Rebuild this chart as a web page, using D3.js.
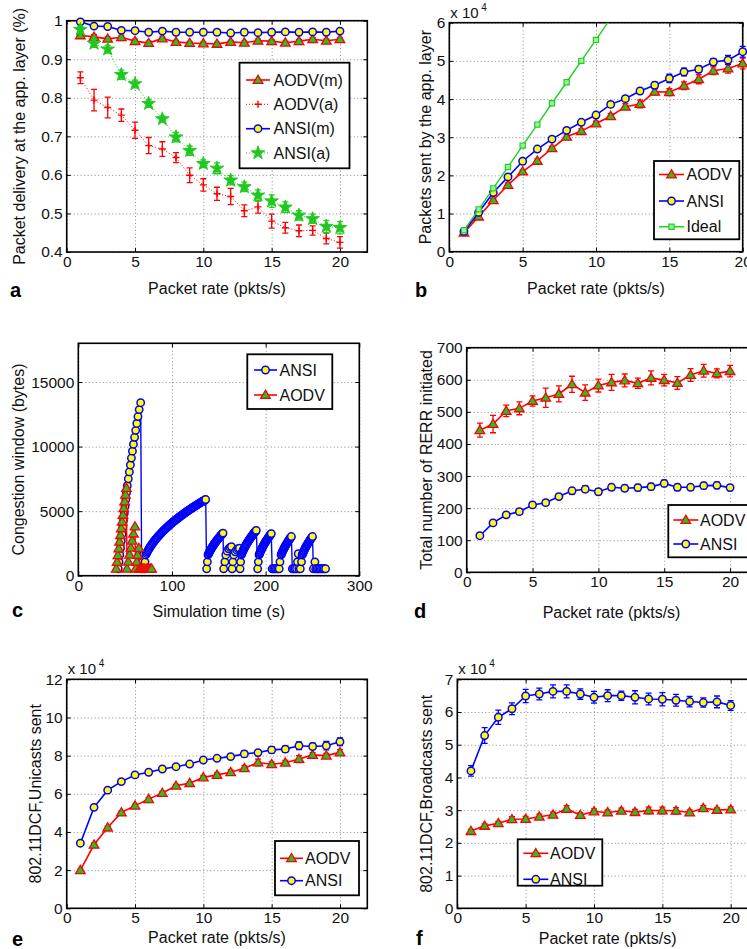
<!DOCTYPE html>
<html>
<head>
<meta charset="utf-8">
<script src="https://cdn.jsdelivr.net/npm/d3@7"></script>
<style>
  body { margin: 0; background: #fff; }
  svg { display: block; font-family: "Liberation Sans", Arial, Helvetica, sans-serif; }
</style>
</head>
<body>
<svg id="fig" width="747" height="949"></svg>
<script>
// ---- data ----
const rate = [1, 2, 3, 4, 5, 6, 7, 8, 9, 10, 11, 12, 13, 14, 15, 16, 17, 18, 19, 20];

// a: packet delivery ratio
const aAodvM    = [0.962, 0.958, 0.953, 0.957, 0.947, 0.942, 0.954, 0.945, 0.942, 0.941, 0.940, 0.945, 0.943, 0.948, 0.947, 0.943, 0.947, 0.952, 0.948, 0.952];
const aAodvMErr = [0.008, 0.006, 0.005, 0.005, 0.005, 0.005, 0.004, 0.004, 0.004, 0.004, 0.004, 0.004, 0.004, 0.004, 0.004, 0.004, 0.004, 0.004, 0.004, 0.004];
const aAnsiM    = [0.997, 0.986, 0.985, 0.975, 0.974, 0.970, 0.973, 0.970, 0.970, 0.970, 0.970, 0.968, 0.970, 0.969, 0.970, 0.971, 0.970, 0.971, 0.970, 0.973];
const aAodvA    = [0.852, 0.794, 0.775, 0.755, 0.716, 0.676, 0.667, 0.645, 0.599, 0.574, 0.551, 0.544, 0.507, 0.517, 0.480, 0.463, 0.455, 0.456, 0.435, 0.425];
const aAodvAErr = [0.015, 0.028, 0.027, 0.016, 0.021, 0.021, 0.019, 0.013, 0.019, 0.016, 0.017, 0.021, 0.015, 0.016, 0.018, 0.014, 0.015, 0.012, 0.014, 0.015];
const aAnsiA    = [0.977, 0.941, 0.926, 0.860, 0.836, 0.785, 0.745, 0.698, 0.663, 0.629, 0.617, 0.586, 0.569, 0.547, 0.532, 0.516, 0.495, 0.486, 0.466, 0.463];
const aAnsiAErr = [0.008, 0.010, 0.010, 0.012, 0.010, 0.010, 0.008, 0.012, 0.012, 0.010, 0.014, 0.012, 0.012, 0.014, 0.016, 0.014, 0.012, 0.012, 0.016, 0.016];

// b: packets sent by the app. layer (x 10^4)
const bAodv    = [0.50, 0.92, 1.35, 1.75, 2.10, 2.38, 2.71, 3.01, 3.16, 3.36, 3.55, 3.80, 3.87, 4.19, 4.18, 4.35, 4.52, 4.74, 4.80, 4.93];
const bAodvErr = [0.03, 0.03, 0.04, 0.05, 0.04, 0.05, 0.05, 0.05, 0.06, 0.06, 0.07, 0.08, 0.10, 0.08, 0.09, 0.10, 0.12, 0.10, 0.12, 0.14];
const bAnsi    = [0.53, 1.03, 1.55, 1.96, 2.37, 2.69, 2.95, 3.18, 3.39, 3.58, 3.86, 4.01, 4.21, 4.36, 4.54, 4.71, 4.78, 4.97, 5.02, 5.24];
const bAnsiErr = [0.03, 0.04, 0.05, 0.05, 0.05, 0.06, 0.06, 0.06, 0.06, 0.07, 0.07, 0.07, 0.07, 0.08, 0.11, 0.10, 0.09, 0.09, 0.12, 0.14];
const bIdealRate = [1, 2, 3, 4, 5, 6, 7, 8, 9, 10, 11];
const bIdeal     = [0.56, 1.11, 1.66, 2.22, 2.78, 3.33, 3.89, 4.44, 5.00, 5.55, 6.11];

// c: congestion window (bytes) over simulation time (s), ANSI trace by stretch
const cAnsiT1 = [42.7, 43.5, 44.3, 45.1, 45.9, 46.7, 47.5, 48.3, 49.1, 49.9, 50.7, 51.5, 52.3, 53.4, 54.5, 55.6, 56.7, 57.8, 58.9, 60.1, 61.3, 62.5, 63.7, 65.0, 66.6,
  67.6, 68.6, 69.6, 70.4, 71.2];
const cAnsiW1 = [536, 1072, 1608, 2144, 2680, 3216, 3752, 4288, 4824, 5360, 5896, 6432, 6968, 7504, 8040, 8576, 9112, 9648, 10184, 10720, 11256, 11792, 12328, 12864, 13400,
  536, 1072, 1608, 536, 1072];
const cAnsiT2 = [72, 72.75, 73.5, 74.25, 75, 75.75, 76.5, 77.25, 78, 78.75, 79.5, 80.25, 81, 81.75, 82.5, 83.25, 84, 84.75, 85.5, 86.25,
  87, 87.75, 88.5, 89.25, 90, 90.75, 91.5, 92.25, 93, 93.75, 94.5, 95.25, 96, 96.75, 97.5, 98.25, 99, 99.75, 100.5, 101.25,
  102, 102.75, 103.5, 104.25, 105, 105.75, 106.5, 107.25, 108, 108.75, 109.5, 110.25, 111, 111.75, 112.5, 113.25, 114, 114.75, 115.5, 116.25,
  117, 117.75, 118.5, 119.25, 120, 120.75, 121.5, 122.25, 123, 123.75, 124.5, 125.25, 126, 126.75, 127.5, 128.25, 129, 129.75, 130.5, 131.25,
  132, 132.75, 133.5, 134.25, 135, 135.5, 136,
  137, 137.8];
const cAnsiW2 = [1608, 1722, 1828, 1928, 2024, 2115, 2203, 2287, 2368, 2446, 2522, 2596, 2668, 2738, 2806, 2872, 2937, 3001, 3063, 3124,
  3184, 3243, 3300, 3357, 3413, 3468, 3522, 3575, 3628, 3679, 3730, 3780, 3830, 3879, 3927, 3975, 4022, 4069, 4115, 4161,
  4206, 4251, 4295, 4339, 4382, 4425, 4467, 4509, 4551, 4592, 4633, 4674, 4714, 4754, 4794, 4833, 4872, 4910, 4949, 4987,
  5024, 5062, 5099, 5136, 5172, 5209, 5245, 5281, 5317, 5352, 5387, 5422, 5457, 5491, 5525, 5560, 5594, 5627, 5660, 5694,
  5727, 5760, 5792, 5825, 5857, 5879, 5900,
  536, 1072];
const cAnsiT3 = [138.5, 139, 139.5, 140, 140.5, 141, 141.5, 142, 142.5, 143, 143.5, 144, 144.5, 145, 145.5, 146, 146.5, 147, 147.5, 148,
  148.5, 149, 149.5, 150, 150.5, 151, 151.5, 152, 152.5, 153, 153.5, 154, 154.5,
  155.2, 156.5, 157.5, 159, 160.5, 162, 163.5, 164.2, 165, 166, 167.5, 169, 170.5, 172, 172.7, 173.3];
const cAnsiW3 = [1608, 1687, 1762, 1834, 1904, 1971, 2035, 2098, 2159, 2219, 2276, 2333, 2387, 2441, 2494, 2545, 2596, 2645, 2694, 2742,
  2789, 2835, 2880, 2925, 2969, 3012, 3055, 3097, 3139, 3180, 3220, 3260, 3300,
  536, 1072, 1608, 1900, 2080, 2190, 2254, 536, 1072, 1608, 1850, 2000, 2090, 2124, 536, 1072];
const cAnsiT4 = [174, 174.5, 175, 175.5, 176, 176.5, 177, 177.5, 178, 178.5, 179, 179.5, 180, 180.5, 181, 181.5, 182, 182.5, 183, 183.5,
  184, 184.5, 185, 185.5, 186, 186.5, 187, 187.5, 188, 188.5, 189, 189.5, 190,
  191.5, 192.2];
const cAnsiW4 = [1608, 1700, 1788, 1871, 1951, 2028, 2101, 2173, 2242, 2309, 2374, 2437, 2499, 2560, 2618, 2676, 2732, 2788, 2842, 2895,
  2947, 2999, 3049, 3099, 3147, 3196, 3243, 3290, 3336, 3381, 3426, 3470, 3514,
  536, 1072];
const cAnsiT5 = [193, 193.5, 194, 194.5, 195, 195.5, 196, 196.5, 197, 197.5, 198, 198.5, 199, 199.5, 200, 200.5, 201, 201.5, 202, 202.5,
  203, 203.5, 204, 204.5, 205, 205.5, 206,
  207, 208.5, 210, 211.5, 213, 214.5, 215.3];
const cAnsiW5 = [1608, 1701, 1790, 1874, 1955, 2032, 2107, 2179, 2249, 2317, 2382, 2446, 2509, 2570, 2629, 2687, 2744, 2800, 2854, 2908,
  2961, 3012, 3063, 3113, 3163, 3211, 3259,
  536, 536, 536, 536, 536, 536, 1072];
const cAnsiT6 = [216.5, 217, 217.5, 218, 218.5, 219, 219.5, 220, 220.5, 221, 221.5, 222, 222.5, 223, 223.5, 224, 224.5, 225, 225.5, 226,
  226.5, 227, 227.5,
  228.5, 230, 231.5, 233, 234, 234.8, 235.5, 237, 238.3];
const cAnsiW6 = [1608, 1699, 1785, 1868, 1946, 2022, 2095, 2166, 2234, 2300, 2365, 2427, 2488, 2548, 2606, 2663, 2719, 2774, 2828, 2880,
  2932, 2983, 3033,
  536, 536, 536, 536, 1072, 1700, 536, 536, 1072];
const cAnsiT7 = [239, 239.5, 240, 240.5, 241, 241.5, 242, 242.5, 243, 243.5, 244, 244.5, 245, 245.5, 246, 246.5, 247, 247.5, 248, 248.5,
  249, 249.5, 250,
  251, 252.6, 253.5, 255, 256.5, 258, 259.5, 261, 262.5, 264];
const cAnsiW7 = [1608, 1699, 1785, 1868, 1946, 2022, 2095, 2166, 2234, 2300, 2365, 2427, 2488, 2548, 2606, 2663, 2719, 2774, 2828, 2880,
  2932, 2983, 3033,
  536, 1072, 536, 536, 536, 536, 536, 536, 536, 536];
const cAodvT = [40.5, 41.4, 42.3, 43.2, 44.1, 45.0, 45.9, 46.8, 47.7, 48.6, 49.5, 50.4, 51.4,
  51.9, 53.3, 54.7, 56.1, 57.5, 58.9, 60.5,
  61.2, 62.5, 63.3, 64.7,
  65.3, 66.5, 68, 69.5, 71, 72.5, 74, 75.5, 77, 78.3];
const cAodvW = [536, 1058, 1580, 2102, 2624, 3146, 3668, 4190, 4712, 5234, 5756, 6278, 6800,
  536, 1081, 1626, 2171, 2716, 3261, 3808,
  536, 1072, 1608, 2144,
  536, 536, 536, 536, 536, 536, 536, 536, 536, 536];

// d: RERR initiated
const dAodv    = [443, 462, 503, 511, 534, 544, 556, 586, 560, 582, 592, 598, 589, 606, 599, 590, 615, 628, 620, 627];
const dAodvErr = [22, 27, 18, 20, 16, 30, 25, 25, 24, 20, 25, 20, 16, 22, 18, 20, 20, 20, 14, 18];
const dAnsi    = [114, 154, 179, 189, 210, 217, 236, 254, 259, 251, 265, 262, 264, 267, 277, 265, 265, 270, 271, 264];
const dAnsiErr = [8, 8, 8, 8, 8, 8, 8, 10, 10, 9, 9, 9, 10, 10, 10, 10, 8, 10, 10, 9];

// e: unicasts sent (x 10^4)
const eAodv    = [2.00, 3.33, 4.23, 5.02, 5.38, 5.72, 6.04, 6.42, 6.56, 6.86, 6.99, 7.13, 7.34, 7.64, 7.55, 7.63, 7.82, 8.04, 8.00, 8.17];
const eAodvErr = [0.05, 0.08, 0.07, 0.07, 0.07, 0.08, 0.08, 0.07, 0.08, 0.09, 0.10, 0.12, 0.12, 0.18, 0.12, 0.12, 0.18, 0.12, 0.12, 0.14];
const eAnsi    = [3.41, 5.29, 6.19, 6.64, 6.99, 7.13, 7.30, 7.42, 7.56, 7.77, 7.86, 7.95, 8.09, 8.16, 8.30, 8.34, 8.52, 8.48, 8.52, 8.73];
const eAnsiErr = [0.05, 0.06, 0.06, 0.07, 0.07, 0.07, 0.07, 0.08, 0.08, 0.10, 0.10, 0.10, 0.15, 0.16, 0.17, 0.17, 0.20, 0.17, 0.22, 0.20];

// f: broadcasts sent (x 10^4)
const fAnsi    = [4.20, 5.28, 5.84, 6.10, 6.49, 6.55, 6.63, 6.63, 6.55, 6.45, 6.50, 6.50, 6.45, 6.40, 6.39, 6.36, 6.32, 6.29, 6.31, 6.20];
const fAnsiErr = [0.16, 0.24, 0.22, 0.18, 0.20, 0.18, 0.20, 0.20, 0.16, 0.18, 0.18, 0.14, 0.20, 0.18, 0.20, 0.18, 0.16, 0.14, 0.18, 0.15];
const fAodv    = [2.36, 2.52, 2.60, 2.72, 2.73, 2.80, 2.86, 3.04, 2.85, 2.96, 2.93, 2.98, 2.94, 2.99, 2.99, 2.98, 2.93, 3.06, 3.01, 3.02];
const fAodvErr = [0.05, 0.06, 0.06, 0.08, 0.08, 0.08, 0.08, 0.10, 0.07, 0.08, 0.08, 0.08, 0.08, 0.10, 0.10, 0.10, 0.08, 0.08, 0.06, 0.08];

// ---- styles ----
const RED = "#ff0000", BLUE = "#0000ff", GREEN = "#1fd01f", FILLG = "#22c322", YEL = "#ffff00";
const FS = 15.5;

const svg = d3.select("#fig");

function zip(xs, ys, es) {
  const n = Math.min(xs.length, ys.length);
  return xs.slice(0, n).map((x, i) => ({ x: x, y: ys[i], e: es ? es[i] : 0 }));
}

// Build the axes frame of one panel, matlab style
function makePanel(p) {
  const x = d3.scaleLinear().domain(p.xDomain).range([p.left, p.right]);
  const y = d3.scaleLinear().domain(p.yDomain).range([p.bottom, p.top]);
  const w = p.right - p.left, h = p.bottom - p.top;
  const g = svg.append("g");

  svg.append("clipPath").attr("id", "clip-" + p.id)
    .append("rect").attr("x", p.left).attr("y", p.top).attr("width", w).attr("height", h);

  // dotted grid
  const grid = g.append("g").attr("class", "grid");
  grid.append("g").attr("transform", `translate(0,${p.bottom})`)
    .call(d3.axisBottom(x).tickValues(p.xTicks).tickSize(-h).tickFormat(""));
  grid.append("g").attr("transform", `translate(${p.left},0)`)
    .call(d3.axisLeft(y).tickValues(p.yTicks).tickSize(-w).tickFormat(""));
  grid.selectAll(".domain").remove();
  grid.selectAll("line").attr("stroke", "#8a8a8a").attr("stroke-dasharray", "1,2.5").attr("stroke-width", 1);

  // ticks pointing inward on all sides
  const axB = g.append("g").attr("transform", `translate(0,${p.bottom})`)
    .call(d3.axisBottom(x).tickValues(p.xTicks).tickSizeInner(-4).tickSizeOuter(0).tickPadding(4));
  const axL = g.append("g").attr("transform", `translate(${p.left},0)`)
    .call(d3.axisLeft(y).tickValues(p.yTicks).tickSizeInner(-4).tickSizeOuter(0).tickPadding(4)
      .tickFormat(p.yFormat || d3.format("d")));
  g.append("g").attr("transform", `translate(0,${p.top})`)
    .call(d3.axisTop(x).tickValues(p.xTicks).tickSizeInner(-4).tickSizeOuter(0).tickFormat(""));
  g.append("g").attr("transform", `translate(${p.right},0)`)
    .call(d3.axisRight(y).tickValues(p.yTicks).tickSizeInner(-4).tickSizeOuter(0).tickFormat(""));
  g.selectAll(".domain").remove();
  [axB, axL].forEach(a => a.attr("font-size", FS).attr("font-family", null));
  g.selectAll(".tick text").attr("fill", "#111");

  g.append("rect").attr("x", p.left).attr("y", p.top).attr("width", w).attr("height", h)
    .attr("fill", "none").attr("stroke", "#000").attr("stroke-width", 1.6);

  // titles
  svg.append("text").attr("x", (p.left + p.right) / 2).attr("y", p.xTitleY)
    .attr("text-anchor", "middle").attr("font-size", 16).attr("fill", "#111").text(p.xTitle);
  svg.append("text")
    .attr("transform", `translate(${p.yTitleX},${(p.top + p.bottom) / 2}) rotate(-90)`)
    .attr("text-anchor", "middle").attr("font-size", 16).attr("fill", "#111").text(p.yTitle);
  svg.append("text").attr("x", p.letterX).attr("y", p.letterY)
    .attr("font-size", 20).attr("font-weight", "bold").attr("fill", "#000").text(p.letter);

  if (p.exp) {
    svg.append("text").attr("x", p.left + 1).attr("y", p.top - 5).attr("font-size", 15)
      .attr("fill", "#111").text("x 10");
    svg.append("text").attr("x", p.left + 32).attr("y", p.top - 12).attr("font-size", 10)
      .attr("fill", "#111").text("4");
  }

  const plot = svg.append("g");
  return { x: x, y: y, g: plot, clip: "url(#clip-" + p.id + ")" };
}

function drawLine(P, pts, color, dash, width) {
  P.g.append("path").datum(pts)
    .attr("clip-path", P.clip)
    .attr("fill", "none").attr("stroke", color)
    .attr("stroke-width", width || 1.6)
    .attr("stroke-dasharray", dash || null)
    .attr("d", d3.line().x(d => P.x(d.x)).y(d => P.y(d.y)));
}

function drawErr(P, pts, color) {
  P.g.append("g").selectAll("path").data(pts).join("path")
    .attr("fill", "none").attr("stroke", color).attr("stroke-width", 1.3)
    .attr("d", d => {
      const cx = P.x(d.x), y0 = P.y(d.y - d.e), y1 = P.y(d.y + d.e);
      return `M${cx},${y0}V${y1}M${cx - 3},${y0}h6M${cx - 3},${y1}h6`;
    });
}

const star = d3.symbol().type(d3.symbolStar).size(58)();

function markerShape(sel, type) {
  if (type === "tri") {
    sel.append("path").attr("d", "M0,-4.8L4.8,3.4L-4.8,3.4Z")
      .attr("fill", FILLG).attr("stroke", RED).attr("stroke-width", 1.3);
  } else if (type === "circ") {
    sel.append("circle").attr("r", 3.7)
      .attr("fill", YEL).attr("stroke", BLUE).attr("stroke-width", 1.5);
  } else if (type === "plus") {
    sel.append("path").attr("d", "M-3.5,0H3.5M0,-3.5V3.5")
      .attr("stroke", RED).attr("stroke-width", 1.4);
  } else if (type === "star") {
    sel.append("path").attr("d", star)
      .attr("fill", FILLG).attr("stroke", GREEN).attr("stroke-width", 1);
  } else if (type === "sq") {
    sel.append("path").attr("d", "M-2.6,-2.6H2.6V2.6H-2.6Z")
      .attr("fill", "#9ef09e").attr("stroke", GREEN).attr("stroke-width", 1.2);
  }
}

function drawMarkers(P, pts, type) {
  const inside = pts.filter(d => d.y >= P.y.domain()[0] && d.y <= P.y.domain()[1]);
  P.g.append("g").selectAll("g").data(inside).join("g")
    .attr("transform", d => `translate(${P.x(d.x)},${P.y(d.y)})`)
    .each(function () { markerShape(d3.select(this), type); });
}

function drawLegend(box, items) {
  const g = svg.append("g");
  g.append("rect").attr("x", box.x).attr("y", box.y).attr("width", box.w).attr("height", box.h)
    .attr("fill", "#fff").attr("stroke", "#000").attr("stroke-width", 1.8);
  items.forEach(it => {
    g.append("line").attr("x1", box.l0).attr("x2", box.l1).attr("y1", it.y).attr("y2", it.y)
      .attr("stroke", it.color).attr("stroke-width", it.dash ? 1 : 1.6)
      .attr("stroke-dasharray", it.dash || null);
    const m = g.append("g").attr("transform", `translate(${(box.l0 + box.l1) / 2},${it.y})`);
    markerShape(m, it.marker);
    g.append("text").attr("x", box.tx).attr("y", it.y).attr("dy", "0.36em")
      .attr("font-size", 16).attr("fill", "#111").text(it.label);
  });
}

// ---- panel a ----
const pa = makePanel({
  id: "a", left: 66.7, right: 367.3, top: 20.7, bottom: 252,
  xDomain: [0, 22], xTicks: [0, 5, 10, 15, 20],
  yDomain: [0.4, 1], yTicks: [0.4, 0.5, 0.6, 0.7, 0.8, 0.9, 1],
  yFormat: d => (d === 1 ? "1" : d3.format(".1f")(d)),
  xTitle: "Packet rate (pkts/s)", xTitleY: 293.5,
  yTitle: "Packet delivery at the app. layer (%)", yTitleX: 24.5,
  letter: "a", letterX: 10, letterY: 297
});
drawLine(pa, zip(rate, aAodvM), RED);
drawErr(pa, zip(rate, aAodvM, aAodvMErr), RED);
drawMarkers(pa, zip(rate, aAodvM), "tri");
drawLine(pa, zip(rate, aAodvA), RED, "1,2", 1);
drawErr(pa, zip(rate, aAodvA, aAodvAErr), RED);
drawMarkers(pa, zip(rate, aAodvA), "plus");
drawLine(pa, zip(rate, aAnsiM), BLUE);
drawMarkers(pa, zip(rate, aAnsiM), "circ");
drawLine(pa, zip(rate, aAnsiA), GREEN, "1,2", 1);
drawErr(pa, zip(rate, aAnsiA, aAnsiAErr), GREEN);
drawMarkers(pa, zip(rate, aAnsiA), "star");
drawLegend({ x: 239.5, y: 62.7, w: 110, h: 105.6, l0: 246, l1: 270, tx: 273.5 }, [
  { label: "AODV(m)", color: RED, marker: "tri", y: 80 },
  { label: "AODV(a)", color: RED, marker: "plus", dash: "1,2", y: 104.3 },
  { label: "ANSI(m)", color: BLUE, marker: "circ", y: 128.7 },
  { label: "ANSI(a)", color: GREEN, marker: "star", dash: "1,2", y: 153 }
]);

// ---- panel b ----
const pb = makePanel({
  id: "b", left: 449.3, right: 742.7, top: 22.7, bottom: 251.7,
  xDomain: [0, 20], xTicks: [0, 5, 10, 15, 20],
  yDomain: [0, 6], yTicks: [0, 1, 2, 3, 4, 5, 6],
  xTitle: "Packet rate (pkts/s)", xTitleY: 293.5,
  yTitle: "Packets sent by the app. layer", yTitleX: 431,
  letter: "b", letterX: 415, letterY: 297, exp: true
});
drawLine(pb, zip(rate, bAodv), RED);
drawErr(pb, zip(rate, bAodv, bAodvErr), RED);
drawMarkers(pb, zip(rate, bAodv), "tri");
drawLine(pb, zip(rate, bAnsi), BLUE);
drawErr(pb, zip(rate, bAnsi, bAnsiErr), BLUE);
drawMarkers(pb, zip(rate, bAnsi), "circ");
drawLine(pb, zip(bIdealRate, bIdeal), GREEN, null, 1.4);
drawMarkers(pb, zip(bIdealRate, bIdeal), "sq");
drawLegend({ x: 654, y: 161, w: 85.3, h: 78.3, l0: 659, l1: 684, tx: 686.5 }, [
  { label: "AODV", color: RED, marker: "tri", y: 174.5 },
  { label: "ANSI", color: BLUE, marker: "circ", y: 201 },
  { label: "Ideal", color: GREEN, marker: "sq", y: 226.7 }
]);

// ---- panel c ----
const pc = makePanel({
  id: "c", left: 78.3, right: 359.3, top: 343.3, bottom: 575.7,
  xDomain: [0, 300], xTicks: [0, 100, 200, 300],
  yDomain: [0, 18000], yTicks: [0, 5000, 10000, 15000],
  xTitle: "Simulation time (s)", xTitleY: 616.7,
  yTitle: "Congestion window (bytes)", yTitleX: 23.5,
  letter: "c", letterX: 12, letterY: 617
});
const cAnsi = [].concat(
  zip(cAnsiT1, cAnsiW1), zip(cAnsiT2, cAnsiW2), zip(cAnsiT3, cAnsiW3), zip(cAnsiT4, cAnsiW4),
  zip(cAnsiT5, cAnsiW5), zip(cAnsiT6, cAnsiW6), zip(cAnsiT7, cAnsiW7));
drawLine(pc, cAnsi, BLUE, null, 1.4);
drawMarkers(pc, cAnsi, "circ");
drawLine(pc, zip(cAodvT, cAodvW), RED, null, 1.4);
drawMarkers(pc, zip(cAodvT, cAodvW), "tri");
drawLegend({ x: 247.3, y: 354.3, w: 85, h: 54.7, l0: 254, l1: 277, tx: 279.5 }, [
  { label: "ANSI", color: BLUE, marker: "circ", y: 370 },
  { label: "AODV", color: RED, marker: "tri", y: 395 }
]);

// ---- panel d ----
const pd = makePanel({
  id: "d", left: 466.7, right: 756.4, top: 347.7, bottom: 572.3,
  xDomain: [0, 22], xTicks: [0, 5, 10, 15, 20],
  yDomain: [0, 700], yTicks: [0, 100, 200, 300, 400, 500, 600, 700],
  xTitle: "Packet rate (pkts/s)", xTitleY: 617.7,
  yTitle: "Total number of RERR initiated", yTitleX: 431.5,
  letter: "d", letterX: 414, letterY: 618
});
drawLine(pd, zip(rate, dAodv), RED);
drawErr(pd, zip(rate, dAodv, dAodvErr), RED);
drawMarkers(pd, zip(rate, dAodv), "tri");
drawLine(pd, zip(rate, dAnsi), BLUE);
drawErr(pd, zip(rate, dAnsi, dAnsiErr), BLUE);
drawMarkers(pd, zip(rate, dAnsi), "circ");
drawLegend({ x: 668.3, y: 505, w: 90, h: 52.3, l0: 673.3, l1: 698.3, tx: 700 }, [
  { label: "AODV", color: RED, marker: "tri", y: 520 },
  { label: "ANSI", color: BLUE, marker: "circ", y: 544 }
]);

// ---- panel e ----
const pe = makePanel({
  id: "e", left: 66.7, right: 367.3, top: 679.3, bottom: 908.3,
  xDomain: [0, 22], xTicks: [0, 5, 10, 15, 20],
  yDomain: [0, 12], yTicks: [0, 2, 4, 6, 8, 10, 12],
  xTitle: "Packet rate (pkts/s)", xTitleY: 943,
  yTitle: "802.11DCF,Unicasts sent", yTitleX: 40.5,
  letter: "e", letterX: 12, letterY: 946, exp: true
});
drawLine(pe, zip(rate, eAodv), RED);
drawErr(pe, zip(rate, eAodv, eAodvErr), RED);
drawMarkers(pe, zip(rate, eAodv), "tri");
drawLine(pe, zip(rate, eAnsi), BLUE);
drawErr(pe, zip(rate, eAnsi, eAnsiErr), BLUE);
drawMarkers(pe, zip(rate, eAnsi), "circ");
drawLegend({ x: 275, y: 841, w: 84, h: 54.3, l0: 280, l1: 303, tx: 305 }, [
  { label: "AODV", color: RED, marker: "tri", y: 858.3 },
  { label: "ANSI", color: BLUE, marker: "circ", y: 880.7 }
]);

// ---- panel f ----
const pf = makePanel({
  id: "f", left: 457.3, right: 758, top: 679.3, bottom: 908.3,
  xDomain: [0, 22], xTicks: [0, 5, 10, 15, 20],
  yDomain: [0, 7], yTicks: [0, 1, 2, 3, 4, 5, 6, 7],
  xTitle: "Packet rate (pkts/s)", xTitleY: 944,
  yTitle: "802.11DCF,Broadcasts sent", yTitleX: 431.5,
  letter: "f", letterX: 416, letterY: 945, exp: true
});
drawLine(pf, zip(rate, fAodv), RED);
drawErr(pf, zip(rate, fAodv, fAodvErr), RED);
drawMarkers(pf, zip(rate, fAodv), "tri");
drawLine(pf, zip(rate, fAnsi), BLUE);
drawErr(pf, zip(rate, fAnsi, fAnsiErr), BLUE);
drawMarkers(pf, zip(rate, fAnsi), "circ");
drawLegend({ x: 517.7, y: 839.3, w: 84.6, h: 46.4, l0: 523.3, l1: 548.3, tx: 550 }, [
  { label: "AODV", color: RED, marker: "tri", y: 853.3 },
  { label: "ANSI", color: BLUE, marker: "circ", y: 879.3 }
]);
</script>
</body>
</html>
